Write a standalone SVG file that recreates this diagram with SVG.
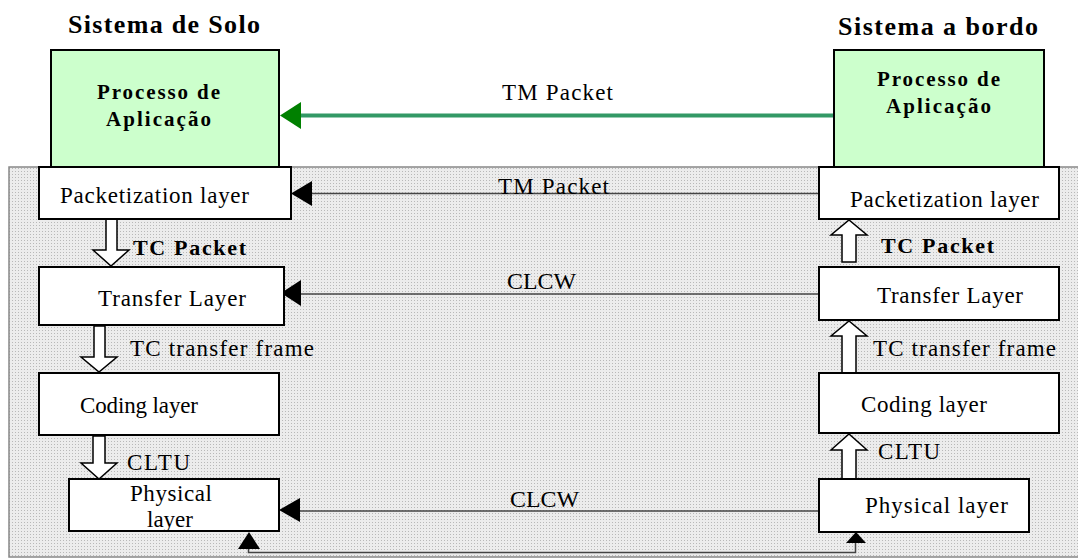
<svg xmlns="http://www.w3.org/2000/svg" width="1078" height="559" viewBox="0 0 1078 559">
<style>
.t{font-family:'Liberation Serif',serif;font-size:23px;fill:#000}
.b{font-family:'Liberation Serif',serif;font-weight:bold;fill:#000}
.box{fill:#fff;stroke:#000;stroke-width:2}
.app{fill:#ccffcc;stroke:#000;stroke-width:2}
.blk{fill:#fff;stroke:#000;stroke-width:1.5;stroke-linejoin:miter}
.ln{fill:none;stroke:#444;stroke-width:1.5}
.ah{fill:#000}
</style>
<defs>
<pattern id="dots" width="3" height="3" patternUnits="userSpaceOnUse">
<rect width="3" height="3" fill="#ececec"/>
<rect width="1" height="1" fill="#b8b8b8"/>
</pattern>
</defs>
<rect width="1078" height="559" fill="#fff"/>
<rect id="region" x="9" y="167" width="1075" height="390" fill="url(#dots)" stroke="#888" stroke-width="1.5"/>

<text class="b" x="68" y="33" font-size="26" textLength="192">Sistema de Solo</text>
<text class="b" x="838" y="35" font-size="26" textLength="200">Sistema a bordo</text>

<g id="connectors">
<line x1="838" y1="115.5" x2="298" y2="115.5" stroke="#339966" stroke-width="4"/>
<polygon points="280,115.5 301,102 301,129" fill="#008000"/>
<line class="ln" x1="819" y1="193.5" x2="308" y2="193.5"/>
<polygon class="ah" points="291,193.5 312,181 312,206"/>
<line class="ln" x1="819" y1="294" x2="298" y2="294"/>
<polygon class="ah" points="281,293 301,280 301,306"/>
<line class="ln" x1="819" y1="511" x2="296" y2="511"/>
<polygon class="ah" points="279,510 300,498 300,522"/>
<polyline class="ln" points="855.5,542 855.5,552.5 248.5,552.5 248.5,547"/>
<polygon class="ah" points="249,532 238,549 260,549"/>
<polygon class="ah" points="856,532 846,543 866,543"/>
<polygon class="blk" points="106,219 117,219 117,250 129,250 111,266 93,250 106,250"/>
<polygon class="blk" points="94,326 105,326 105,357 117,357 99,372 81,357 94,357"/>
<polygon class="blk" points="93,436 105,436 105,463 117,463 99,479 81,463 93,463"/>
<polygon class="blk" points="842,262 856,262 856,235 867,235 849,220 831,235 842,235"/>
<polygon class="blk" points="842,373 856,373 856,336 867,336 849,321 831,336 842,336"/>
<polygon class="blk" points="842,479 856,479 856,450 867,450 849,434 831,450 842,450"/>
<text class="t" x="502" y="100" textLength="111">TM Packet</text>
<text class="t" x="498" y="194" textLength="111">TM Packet</text>
<text class="t" x="507" y="289" textLength="69" lengthAdjust="spacingAndGlyphs">CLCW</text>
<text class="t" x="510" y="507" textLength="69" lengthAdjust="spacingAndGlyphs">CLCW</text>
<text class="b" x="133" y="255" font-size="22" textLength="113">TC Packet</text>
<text class="b" x="881" y="253" font-size="22" textLength="113">TC Packet</text>
<text class="t" x="130" y="356" textLength="184">TC transfer  frame</text>
<text class="t" x="873" y="356" textLength="183">TC transfer  frame</text>
<text class="t" x="127" y="470" textLength="63">CLTU</text>
<text class="t" x="878" y="459" textLength="62">CLTU</text>
</g>

<g id="app-solo">
<rect class="app" x="51" y="50" width="228" height="117"/>
<text class="b" x="97" y="99" font-size="21" textLength="123">Processo de</text>
<text class="b" x="106" y="126" font-size="21" textLength="105">Aplicação</text>
</g>
<g id="app-bordo">
<rect class="app" x="834" y="50" width="210" height="117"/>
<text class="b" x="877" y="86" font-size="21" textLength="123">Processo de</text>
<text class="b" x="886" y="113" font-size="21" textLength="105">Aplicação</text>
</g>

<g id="pkt-solo">
<rect class="box" x="39" y="167" width="252" height="52"/>
<text class="t" x="60" y="203" textLength="189">Packetization layer</text>
</g>
<g id="pkt-bordo">
<rect class="box" x="819" y="167" width="240" height="52"/>
<text class="t" x="850" y="207" textLength="189">Packetization layer</text>
</g>
<g id="transfer-solo">
<rect class="box" x="39" y="267" width="245" height="58"/>
<text class="t" x="98" y="306" textLength="148">Transfer Layer</text>
</g>
<g id="transfer-bordo">
<rect class="box" x="819" y="267" width="240" height="53"/>
<text class="t" x="877" y="303" textLength="146">Transfer Layer</text>
</g>
<g id="coding-solo">
<rect class="box" x="39" y="373" width="240" height="62"/>
<text class="t" x="80" y="413" textLength="118">Coding layer</text>
</g>
<g id="coding-bordo">
<rect class="box" x="819" y="373" width="240" height="60"/>
<text class="t" x="861" y="412" textLength="126">Coding layer</text>
</g>
<g id="phys-solo">
<rect class="box" x="69" y="479" width="210" height="52"/>
<text class="t" x="130" y="501" textLength="82">Physical</text>
<text class="t" x="147" y="527" textLength="46">layer</text>
</g>
<g id="phys-bordo">
<rect class="box" x="819" y="479" width="210" height="53"/>
<text class="t" x="865" y="513" textLength="143">Physical  layer</text>
</g>
</svg>
